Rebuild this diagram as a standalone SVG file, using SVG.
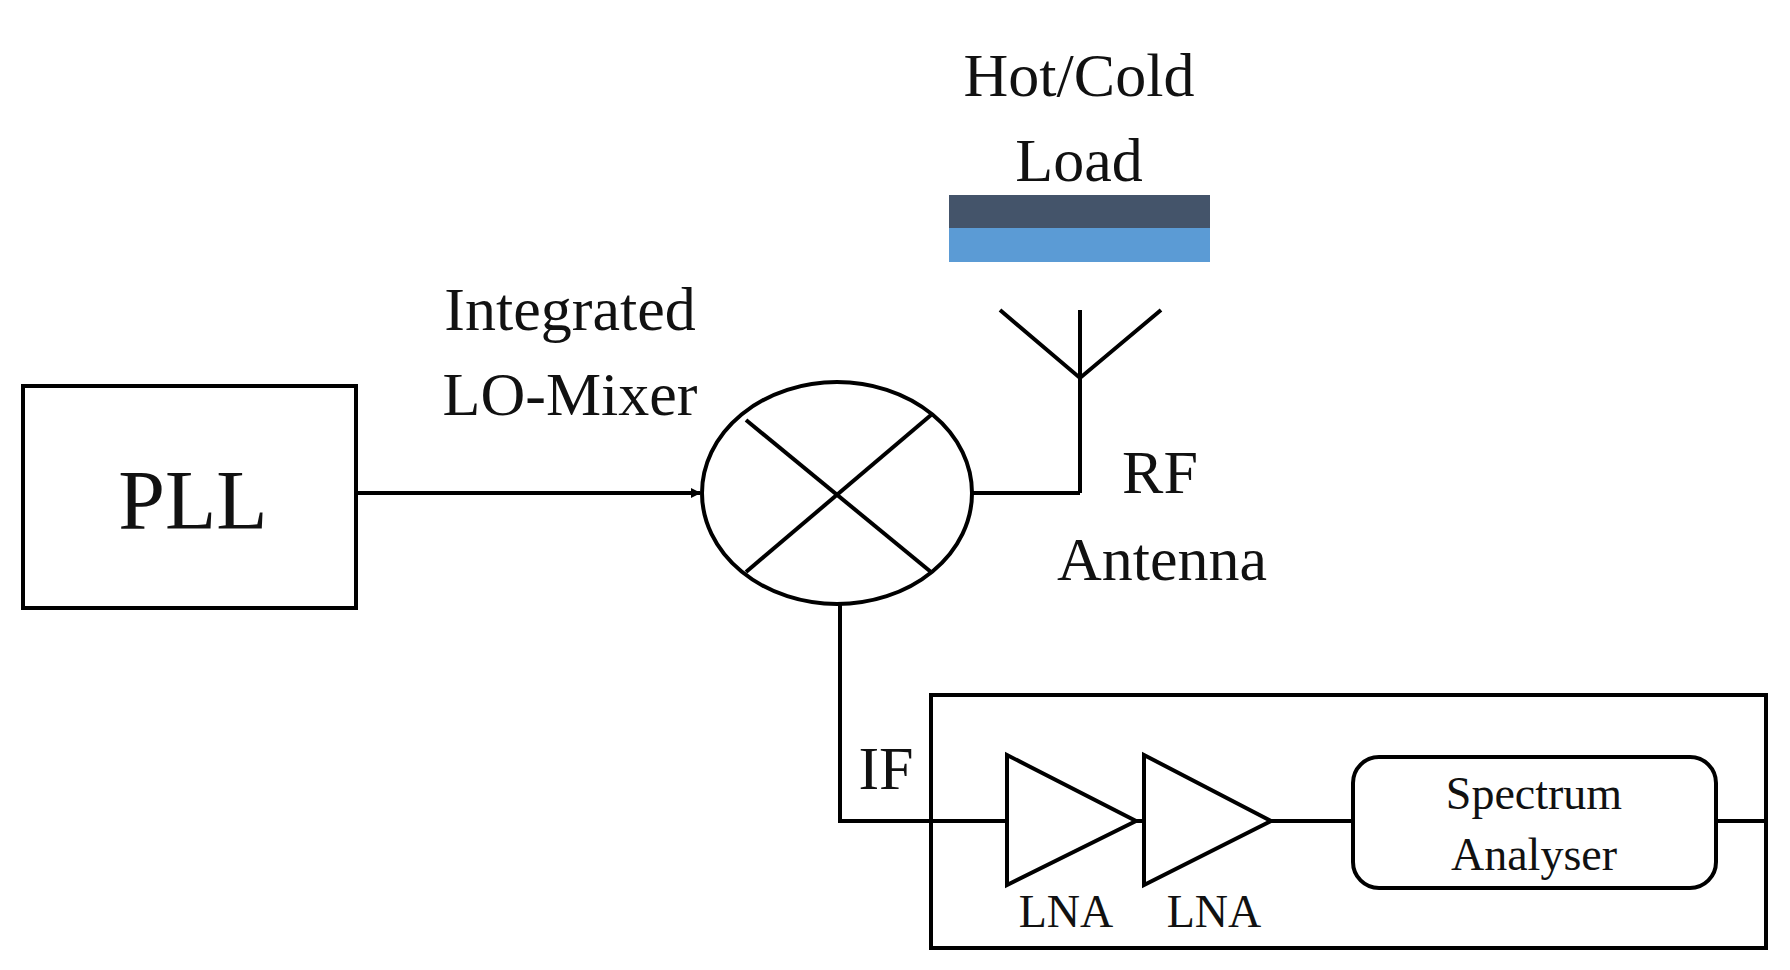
<svg xmlns="http://www.w3.org/2000/svg" width="1790" height="970" viewBox="0 0 1790 970">
<style>
.s{fill:none;stroke:#000;stroke-width:4;stroke-linejoin:miter}
text{font-family:"Liberation Serif","Times New Roman",serif;fill:#111;text-anchor:middle}
</style>
<defs><marker id="ah" markerWidth="10" markerHeight="10" refX="9" refY="5" orient="auto" markerUnits="userSpaceOnUse"><path d="M0,0 L10,5 L0,10 Z" fill="#000"/></marker></defs>
<rect width="1790" height="970" fill="#fff"/>
<g id="pll"><rect class="s" x="23" y="386" width="333" height="222"/><text x="193" y="529" font-size="84">PLL</text></g>
<g id="mixer"><ellipse class="s" cx="837" cy="493" rx="135" ry="111"/><line class="s" x1="746" y1="420" x2="931" y2="572"/><line class="s" x1="931" y1="415" x2="746" y2="572"/>
<text x="570" y="330" font-size="62">Integrated</text><text x="570" y="415" font-size="62">LO-Mixer</text></g>
<g id="load"><rect x="949" y="195" width="261" height="33" fill="#44546a"/><rect x="949" y="228" width="261" height="34" fill="#5b9bd5"/>
<text x="1079" y="96" font-size="62">Hot/Cold</text><text x="1079" y="181" font-size="62">Load</text></g>
<g id="antenna"><path class="s" d="M1000,310 L1080,378 L1161,310 M1080,310 V493"/><text x="1160" y="493" font-size="62">RF</text><text x="1162" y="580" font-size="62">Antenna</text></g>
<g id="backend"><rect class="s" x="931" y="695" width="835" height="253"/>
<path class="s" d="M1007,755 L1136,821 L1007,885 Z"/><path class="s" d="M1144,755 L1271,821 L1144,885 Z"/>
<rect class="s" x="1353" y="757" width="363" height="131" rx="26"/>
<text x="1534" y="809" font-size="46">Spectrum</text><text x="1534" y="870" font-size="46">Analyser</text>
<text x="1066" y="927" font-size="46">LNA</text><text x="1214" y="927" font-size="46">LNA</text></g>
<g id="connectors">
<line class="s" x1="356" y1="493" x2="700" y2="493" marker-end="url(#ah)"/>
<path class="s" d="M972,493 H1080"/>
<path class="s" d="M840,604 V821 H1007"/>
<path class="s" d="M1136,821 H1144 M1271,821 H1353 M1716,821 H1766"/>
<text x="886" y="789" font-size="62">IF</text>
</g>
</svg>
